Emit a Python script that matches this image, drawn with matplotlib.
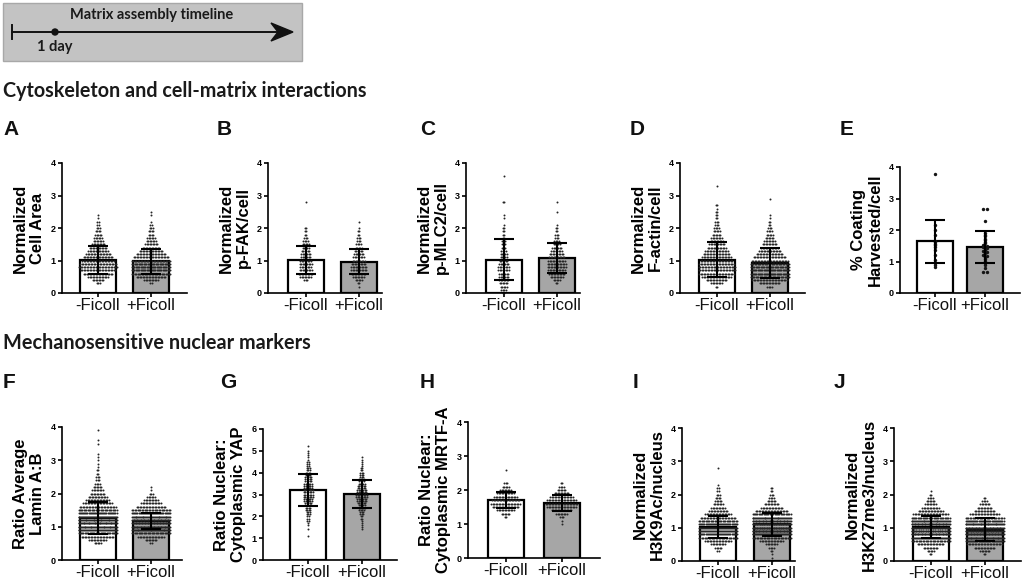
import numpy as np
import matplotlib.pyplot as plt
from matplotlib.patches import Rectangle, Polygon, Circle

W, H = 1024, 581
groups = ['-Ficoll', '+Ficoll']

# bar heights (mean) and SD per panel, [-Ficoll, +Ficoll]
panel_ids = ['A', 'B', 'C', 'D', 'E', 'F', 'G', 'H', 'I', 'J']
mean_vals = {
    'A': [1.02, 0.97], 'B': [1.02, 0.96], 'C': [1.02, 1.07], 'D': [1.02, 0.92],
    'E': [1.64, 1.46], 'F': [1.26, 1.17], 'G': [3.20, 3.03], 'H': [1.71, 1.62],
    'I': [1.03, 1.10], 'J': [1.03, 0.94],
}
sd_vals = {
    'A': [0.43, 0.38], 'B': [0.42, 0.39], 'C': [0.63, 0.46], 'D': [0.54, 0.47],
    'E': [0.68, 0.51], 'F': [0.47, 0.24], 'G': [0.74, 0.65], 'H': [0.245, 0.23],
    'I': [0.335, 0.335], 'J': [0.33, 0.35],
}

# dot counts per 0.1 row, (first row value, counts)
a_neg = (0.3, [3, 8, 14, 20, 24, 26, 25, 22, 20, 17, 14, 12, 9, 7, 6, 5, 4, 3, 2, 2, 1, 1])
a_pos = (0.3, [2, 10, 20, 28, 32, 32, 30, 27, 24, 20, 16, 12, 9, 7, 6, 4, 4, 3, 2, 1, 0, 1, 1])
b_neg = (0.4, [3, 8, 10, 9, 8, 9, 8, 7, 7, 6, 5, 5, 4, 3, 2, 2, 2, 0, 0, 0, 0, 0, 0, 0, 1])
b_pos = (0.2, [1, 2, 5, 8, 10, 11, 11, 10, 9, 8, 7, 6, 5, 4, 3, 3, 2, 2, 1, 0, 1])
c_neg = (0.0, [2, 4, 5, 6, 7, 7, 7, 8, 8, 7, 6, 5, 5, 4, 3, 3, 3, 2, 2, 2, 2, 1, 0, 1, 1,
               0, 0, 0, 2, 0, 0, 0, 0, 0, 0, 0, 1])
c_pos = (0.3, [2, 5, 9, 11, 12, 13, 13, 12, 11, 10, 8, 7, 5, 4, 3, 3, 2, 2, 1, 0, 0, 0, 1, 0, 0, 1])
d_neg = (0.2, [2, 8, 14, 20, 24, 25, 25, 24, 22, 20, 18, 16, 13, 11, 9, 8, 6, 5, 4, 3, 3, 2, 2, 2,
               1, 2, 0, 0, 0, 0, 0, 1])
d_pos = (0.2, [4, 14, 24, 30, 33, 33, 31, 28, 25, 22, 18, 15, 12, 10, 8, 6, 5, 4, 3, 2, 2, 1, 1,
               0, 0, 0, 0, 1])
f_neg = (0.5, [5, 12, 22, 32, 40, 45, 46, 44, 40, 35, 30, 25, 20, 16, 13, 10, 8, 6, 4, 3, 3, 2, 2,
               1, 1, 1, 1, 1, 0, 0, 1, 1, 0, 0, 1])
f_pos = (0.5, [2, 8, 18, 30, 42, 50, 52, 50, 44, 36, 28, 20, 14, 10, 6, 3, 1, 1])
g_neg = (1.1, [1, 0, 0, 1, 0, 1, 1, 2, 2, 2, 3, 3, 4, 4, 5, 5, 6, 6, 7, 7, 7, 7, 6, 6, 6, 5, 5, 5,
               4, 4, 3, 3, 2, 2, 2, 1, 1, 1, 1, 1, 0, 1])
g_pos = (1.4, [1, 1, 1, 1, 1, 2, 2, 3, 3, 4, 5, 5, 6, 7, 7, 8, 8, 7, 7, 6, 6, 5, 4, 4, 3, 3, 3, 2,
               2, 1, 1, 1, 1, 1])
h_neg = (1.2, [2, 6, 12, 18, 20, 19, 16, 12, 8, 5, 3, 0, 0, 0, 1])
h_pos = (1.0, [1, 1, 3, 8, 14, 20, 22, 20, 16, 10, 6, 4, 2])
i_neg = (0.3, [2, 5, 10, 18, 28, 36, 40, 40, 36, 30, 24, 18, 13, 10, 7, 5, 4, 3, 2, 2, 1, 0, 0, 0, 0, 1])
i_pos = (0.0, [1, 1, 1, 2, 4, 8, 16, 28, 40, 50, 55, 55, 50, 42, 32, 22, 15, 10, 6, 4, 3, 2, 2])
j_neg = (0.2, [2, 5, 10, 18, 28, 40, 50, 55, 55, 50, 42, 32, 24, 17, 12, 8, 6, 4, 2, 1])
j_pos = (0.2, [2, 7, 14, 24, 36, 46, 52, 54, 50, 44, 36, 28, 20, 14, 10, 7, 4, 2])

# panel E: individual points
e_neg = [3.77, 2.15, 2.00, 1.83, 1.65, 1.62, 1.57, 1.51, 1.45, 1.35, 1.20, 1.06, 0.95, 0.88, 0.83]
e_pos = [2.68, 2.68, 2.28, 1.92, 1.85, 1.80, 1.72, 1.68, 1.62, 1.58, 1.52, 1.50, 1.46, 1.42,
         1.38, 1.33, 1.30, 1.26, 1.22, 1.18, 1.14, 1.08, 1.02, 0.96, 0.90, 0.80, 0.68, 0.67]

ylabels = {
    'A': 'Normalized\nCell Area', 'B': 'Normalized\np-FAK/cell', 'C': 'Normalized\np-MLC2/cell',
    'D': 'Normalized\nF-actin/cell', 'E': '% Coating\nHarvested/cell',
    'F': 'Ratio Average\nLamin A:B', 'G': 'Ratio Nuclear:\nCytoplasmic YAP',
    'H': 'Ratio Nuclear:\nCytoplasmic MRTF-A', 'I': 'Normalized\nH3K9Ac/nucleus',
    'J': 'Normalized\nH3K27me3/nucleus',
}
dots = {
    'A': [a_neg, a_pos], 'B': [b_neg, b_pos], 'C': [c_neg, c_pos], 'D': [d_neg, d_pos],
    'F': [f_neg, f_pos], 'G': [g_neg, g_pos], 'H': [h_neg, h_pos], 'I': [i_neg, i_pos],
    'J': [j_neg, j_pos],
}

# layout in pixels: left, top(ymax), right, bottom(y=0), bar centre 0, bar centre 1, ymax
layout = {
    'A': (62, 163, 187, 293, 98, 151, 4), 'B': (268, 163, 382, 293, 305.5, 358.5, 4),
    'C': (466, 163, 580, 293, 503.5, 556.5, 4), 'D': (680, 163, 805, 293, 716.5, 769.5, 4),
    'E': (900, 167, 1020, 293, 935, 985, 4),
    'F': (62, 427, 182, 560, 97.5, 151, 4), 'G': (263, 429, 397, 560, 308, 361.5, 6),
    'H': (468, 422, 600, 558, 505.5, 561.5, 4), 'I': (682, 428, 795, 561, 718, 771.5, 4),
    'J': (894, 428, 1021, 561, 930.5, 984.5, 4),
}
letter_pos = {'A': (3, 135), 'B': (217, 135), 'C': (420, 135), 'D': (630, 135), 'E': (840, 135),
              'F': (3, 388), 'G': (220, 388), 'H': (420, 388), 'I': (633, 388), 'J': (834, 388)}

fig = plt.figure(figsize=(W / 100, H / 100), dpi=100)

#* background layer in pixel coordinates
bg = fig.add_axes([0, 0, 1, 1])
bg.set_xlim(0, W)
bg.set_ylim(H, 0)
bg.axis('off')
bg.add_patch(Rectangle((3, 3), 299, 58, facecolor='#c3c3c3', edgecolor='#a8a8a8', lw=1))
bg.plot([12, 276], [32, 32], color='#111111', lw=1.4)
bg.plot([12, 12], [25, 39], color='#111111', lw=1.4)
bg.add_patch(Polygon([[293, 32], [271, 23], [278, 32], [271, 41]], closed=True, color='#111111'))
bg.add_patch(Circle((55, 32), 3, color='#111111'))
bg.text(152, 15, 'Matrix assembly timeline', ha='center', va='center', fontsize=10.5,
        family='Lato', weight='bold', color='#1a1a1a')
bg.text(37, 47, '1 day', ha='left', va='center', fontsize=10.5, family='Lato', weight='bold',
        color='#1a1a1a')
bg.text(3, 97, 'Cytoskeleton and cell-matrix interactions', ha='left', va='baseline',
        fontsize=14.2, family='Lato', weight='bold', color='#1a1a1a')
bg.text(3, 349, 'Mechanosensitive nuclear markers', ha='left', va='baseline',
        fontsize=14.3, family='Lato', weight='bold', color='#1a1a1a')
for p, (lx, ly) in letter_pos.items():
    bg.text(lx, ly, p, ha='left', va='baseline', fontsize=15, family='Liberation Sans',
            weight='bold', color='#111111')


def row_xy(values, centre, spacing, max_half, step):
    xs, ys = [], []
    vals = np.asarray(values)
    keys = np.round(vals / step).astype(int)
    for k in np.unique(keys):
        row = vals[keys == k]
        n = row.size
        width = min((n - 1) * spacing, 2 * max_half)
        xs.extend(centre + np.linspace(-width / 2, width / 2, n) if n > 1 else [centre])
        ys.extend(row)
    return np.array(xs), np.array(ys)


for p in panel_ids:
    left, top, right, bottom, c0, c1, ymax = layout[p]
    ax = fig.add_axes([left / W, 1 - bottom / H, (right - left) / W, (bottom - top) / H])
    ax.patch.set_alpha(0)
    sp = c1 - c0
    ax.set_xlim((left - c0) / sp, (right - c0) / sp)
    ax.set_ylim(0, ymax)
    bw = 36 / sp
    ax.bar([0, 1], mean_vals[p], width=bw, color=['white', '#a6a6a6'], edgecolor='black',
           linewidth=1.6, zorder=1)
    for i in range(2):
        if p == 'E':
            vals = e_neg if i == 0 else e_pos
            x, y = row_xy(vals, i, 4.2 / sp, 16 / sp, 0.06)
            ax.scatter(x, y, s=6, color='#151515', linewidths=0, zorder=2, clip_on=False)
        else:
            start, counts = dots[p][i]
            vals = np.repeat(start + 0.1 * np.arange(len(counts)), counts)
            x, y = row_xy(vals, i, 1.5 / sp, 19 / sp, 0.1)
            ax.scatter(x, y, s=2.0, color='#262626', linewidths=0, zorder=2, clip_on=False)
    ax.errorbar([0, 1], mean_vals[p], yerr=sd_vals[p], fmt='none', ecolor='black',
                elinewidth=1.5, capsize=7, capthick=1.5, zorder=3)
    for s in ['top', 'right']:
        ax.spines[s].set_visible(False)
    for s in ['left', 'bottom']:
        ax.spines[s].set_linewidth(1.2)
    ax.set_yticks(range(ymax + 1))
    ax.set_yticklabels([str(v) for v in range(ymax + 1)], fontsize=6.5, weight='bold',
                       family='Liberation Sans')
    ax.set_xticks([0, 1])
    ax.set_xticklabels(groups, fontsize=12, family='Liberation Sans', color='#111111')
    ax.tick_params(axis='both', length=3, width=1.2, pad=1.5)
    ax.tick_params(axis='x', pad=0.5)
    ax.set_ylabel(ylabels[p], fontsize=12, weight='bold', family='Liberation Sans',
                  linespacing=1.2, labelpad=4)

fig.savefig('out.png', dpi=100)
